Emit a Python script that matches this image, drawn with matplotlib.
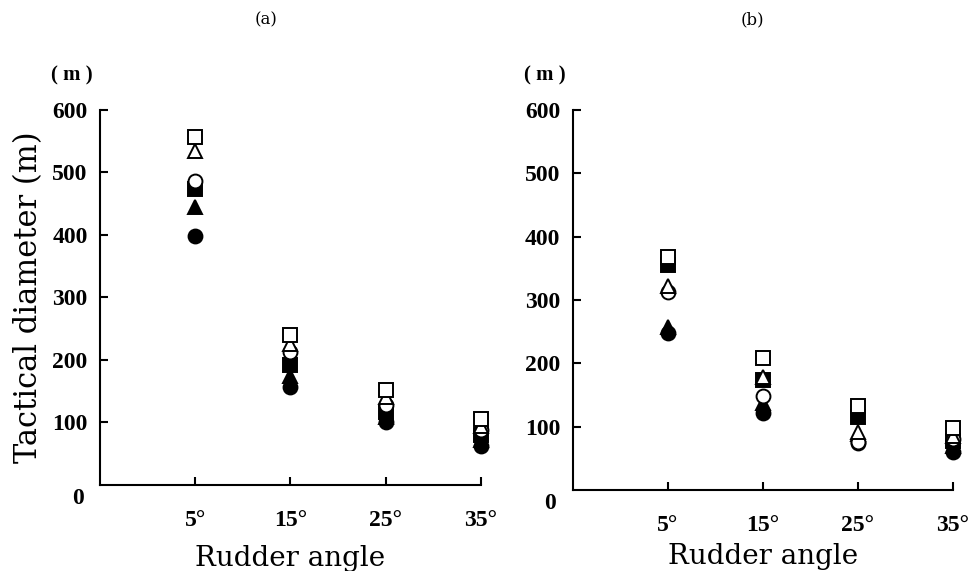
import matplotlib.pyplot as plt
import numpy as np

# --- data (tactical diameter in m) ---
angles = ["5°", "15°", "25°", "35°"]

# panel (a)
a_open_square = [556, 240, 152, 105]
a_open_triangle = [535, 225, 140, 95]
a_open_circle = [487, 212, 128, 88]
a_filled_square = [474, 192, 116, 80]
a_filled_triangle = [444, 175, 108, 72]
a_filled_circle = [398, 157, 100, 62]

# panel (b)
b_open_square = [368, 208, 133, 98]
b_open_triangle = [322, 178, 92, 85]
b_open_circle = [312, 148, 76, 80]
b_filled_square = [356, 174, 115, 78]
b_filled_triangle = [258, 138, 88, 70]
b_filled_circle = [248, 122, 74, 60]

yticks = [100, 200, 300, 400, 500, 600]

serif = "DejaVu Serif"
tickfont = dict(family="Liberation Serif", weight="bold", size=17)

fig = plt.figure(figsize=(9.74, 5.71), dpi=100)
ax_a = fig.add_axes([0.1027, 0.1506, 0.391, 0.657])
ax_b = fig.add_axes([0.588, 0.1419, 0.390, 0.6655])

styles = [
    ("s", "white", 10),
    ("^", "white", 10.5),
    ("o", "white", 10),
    ("s", "black", 10),
    ("^", "black", 10.5),
    ("o", "black", 10),
]

panels = [
    (ax_a, [a_open_square, a_open_triangle, a_open_circle,
            a_filled_square, a_filled_triangle, a_filled_circle],
     "(a)", 0.273, 10),
    (ax_b, [b_open_square, b_open_triangle, b_open_circle,
            b_filled_square, b_filled_triangle, b_filled_circle],
     "(b)", 0.773, 5),
]

x = np.arange(1, len(angles) + 1)

for ax, series, title, title_x, xlabelpad in panels:
    # filled markers first so the open ones sit on top like in the print
    for (marker, face, ms), vals in reversed(list(zip(styles, series))):
        ax.plot(x, vals, linestyle="none", marker=marker, markersize=ms,
                markerfacecolor=face, markeredgecolor="black",
                markeredgewidth=1.4, clip_on=False, zorder=3)

    ax.set_xlim(0, 4)
    ax.set_ylim(0, 600)
    for side in ["top", "right"]:
        ax.spines[side].set_visible(False)
    for side in ["left", "bottom"]:
        ax.spines[side].set_linewidth(1.5)

    ax.set_xticks(x)
    ax.set_xticklabels(angles, fontdict=tickfont)
    ax.set_yticks(yticks)
    ax.set_yticklabels([str(v) for v in yticks], fontdict=tickfont)
    ax.tick_params(direction="in", length=6, width=1.5)
    ax.tick_params(axis="x", pad=18)
    ax.tick_params(axis="y", pad=9)

    ax.annotate("0", xy=(0, 0), xycoords="axes fraction",
                xytext=(-16, -10), textcoords="offset points",
                ha="center", va="center", **tickfont)
    ax.annotate("( m )", xy=(0, 1), xycoords="axes fraction",
                xytext=(-20, 25), textcoords="offset points",
                ha="center", va="center", family="Liberation Serif",
                weight="bold", size=15)

    ax.set_xlabel("Rudder angle", family=serif, size=20, labelpad=xlabelpad)
    fig.text(title_x, 1 - 20 / 571, title, family=serif, size=12,
             ha="center", va="center")

ax_a.set_ylabel("Tactical diameter (m)", family=serif, size=22, labelpad=6)

plt.savefig("out.png", dpi=100)
